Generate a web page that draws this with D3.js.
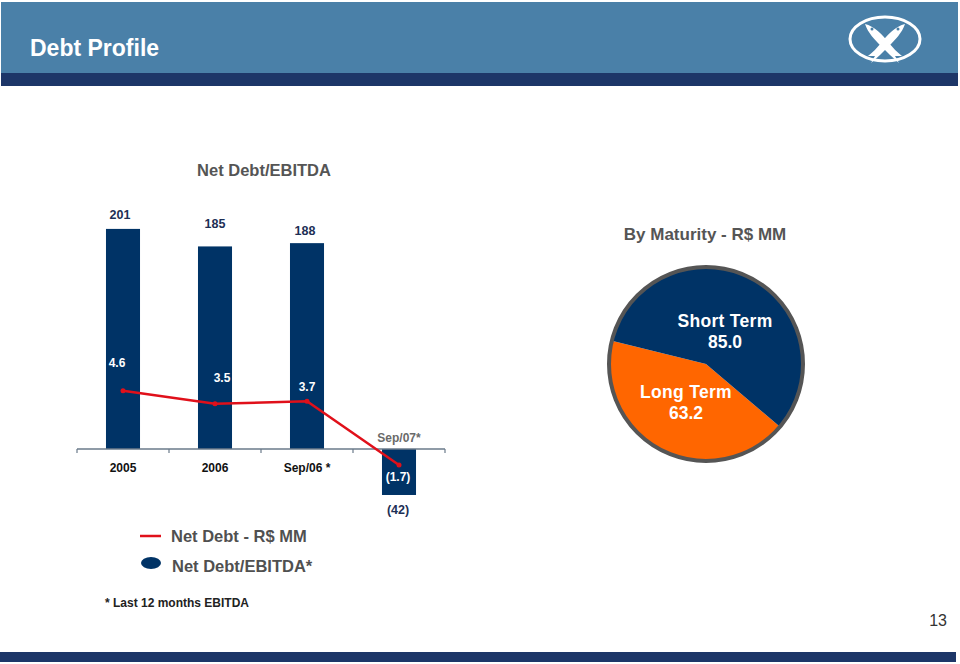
<!DOCTYPE html>
<html>
<head>
<meta charset="utf-8">
<script src="https://cdn.jsdelivr.net/npm/d3@7/dist/d3.min.js"></script>
<style>
  body { margin: 0; background: #fff; }
  svg { display: block; font-family: "Liberation Sans", Arial, sans-serif; }
</style>
</head>
<body>
<svg width="960" height="664"></svg>
<script>
// data
const categories = ["2005", "2006", "Sep/06 *", "Sep/07*"];
const netDebt = [201, 185, 188, -42];
const netDebtLabels = ["201", "185", "188", "(42)"];
const ratio = [4.6, 3.5, 3.7, -1.7];
const ratioLabels = ["4.6", "3.5", "3.7", "(1.7)"];
const maturityNames = ["Long Term", "Short Term"];
const maturityValues = [63.2, 85.0];

// hand placed label nudges (layout only)
const barLabelDy = [-10, -18, -8, 19];
const barLabelDx = [-3, 0, -2, -1];
const ratioLabelDy = [-24, -22, -10, 16];
const ratioLabelDx = [-6, 7, 0, -1];

const navy = "#003366";
const orange = "#ff6600";
const red = "#e0101a";

const svg = d3.select("svg");

// header
svg.append("rect").attr("x", 1).attr("y", 2).attr("width", 957).attr("height", 71).attr("fill", "#4a80a8");
svg.append("rect").attr("x", 1).attr("y", 73).attr("width", 957).attr("height", 13).attr("fill", "#1d3668");
svg.append("text").attr("x", 30).attr("y", 56).attr("fill", "#fff")
  .attr("font-size", 23).attr("font-weight", "bold").text("Debt Profile");

// logo
let logo = svg.append("g").attr("transform", "translate(885,39)");
logo.append("ellipse").attr("rx", 35).attr("ry", 22).attr("fill", "none").attr("stroke", "#fff").attr("stroke-width", 3);
let fish = "M-20,-15 C-11,-13 -2,-4 4,4 C8,9 12,13 17,17 L10,17 L14,24 C8,19 2,13 -4,7 C-10,1 -17,-6 -20,-15 Z";
logo.append("path").attr("d", fish).attr("fill", "#fff");
logo.append("path").attr("d", fish).attr("fill", "#fff").attr("transform", "scale(-1,1)");
logo.append("circle").attr("cx", -13).attr("cy", -10).attr("r", 1.5).attr("fill", "#4a80a8");
logo.append("circle").attr("cx", 13).attr("cy", -10).attr("r", 1.5).attr("fill", "#4a80a8");

// footer
svg.append("rect").attr("x", 0).attr("y", 652).attr("width", 956).attr("height", 10).attr("fill", "#1d3668");
svg.append("text").attr("x", 947).attr("y", 626).attr("text-anchor", "end")
  .attr("font-size", 16).attr("fill", "#333").text("13");

// bar + line chart
svg.append("text").attr("x", 264).attr("y", 176).attr("text-anchor", "middle")
  .attr("font-size", 16.5).attr("font-weight", "bold").attr("fill", "#555").text("Net Debt/EBITDA");

let x = d3.scaleBand().domain(categories).range([77, 445])
  .paddingInner(0.63).paddingOuter(0.315);
let yBar = d3.scaleLinear().domain([0, 200]).range([449, 230]);
let yLine = d3.scaleLinear().domain([0, 4.6]).range([445, 390.7]);

let chart = svg.append("g");

chart.selectAll("rect.bar")
  .data(netDebt)
  .enter()
  .append("rect")
  .attr("class", "bar")
  .attr("x", (d, i) => x(categories[i]))
  .attr("width", x.bandwidth())
  .attr("y", d => yBar(Math.max(0, d)))
  .attr("height", d => Math.abs(yBar(d) - yBar(0)))
  .attr("fill", navy);

// axis with ticks between categories
let axisY = yBar(0);
chart.append("line").attr("x1", 77).attr("x2", 445).attr("y1", axisY).attr("y2", axisY)
  .attr("stroke", "#6a7a8a").attr("stroke-width", 1.5);
let tickXs = [77].concat(categories.map(c => x(c) - x.step() * x.paddingInner() / 2 + x.step()));
chart.selectAll("line.tick")
  .data(tickXs)
  .enter()
  .append("line")
  .attr("x1", d => d).attr("x2", d => d)
  .attr("y1", axisY).attr("y2", axisY + 4)
  .attr("stroke", "#6a7a8a").attr("stroke-width", 1.2);

chart.selectAll("text.cat")
  .data(categories)
  .enter()
  .append("text")
  .attr("x", d => x(d) + x.bandwidth() / 2)
  .attr("y", (d, i) => netDebt[i] < 0 ? axisY - 7 : axisY + 23)
  .attr("text-anchor", "middle")
  .attr("font-size", 12).attr("font-weight", "bold")
  .attr("fill", (d, i) => netDebt[i] < 0 ? "#6a6a6a" : "#111")
  .text(d => d);

chart.selectAll("text.barlab")
  .data(netDebt)
  .enter()
  .append("text")
  .attr("x", (d, i) => x(categories[i]) + x.bandwidth() / 2 + barLabelDx[i])
  .attr("y", (d, i) => yBar(d) + barLabelDy[i])
  .attr("text-anchor", "middle")
  .attr("font-size", 12.5).attr("font-weight", "bold")
  .attr("fill", "#1d2f55")
  .text((d, i) => netDebtLabels[i]);

let line = d3.line()
  .x((d, i) => x(categories[i]) + x.bandwidth() / 2)
  .y(d => yLine(d));

chart.append("path").datum(ratio)
  .attr("d", line)
  .attr("fill", "none").attr("stroke", red).attr("stroke-width", 2.5);

chart.selectAll("circle.pt")
  .data(ratio)
  .enter()
  .append("circle")
  .attr("cx", (d, i) => x(categories[i]) + x.bandwidth() / 2)
  .attr("cy", d => yLine(d))
  .attr("r", 2.5)
  .attr("fill", red);

chart.selectAll("text.ratiolab")
  .data(ratio)
  .enter()
  .append("text")
  .attr("x", (d, i) => x(categories[i]) + x.bandwidth() / 2 + ratioLabelDx[i])
  .attr("y", (d, i) => yLine(d) + ratioLabelDy[i])
  .attr("text-anchor", "middle")
  .attr("font-size", 12).attr("font-weight", "bold")
  .attr("fill", "#fff")
  .text((d, i) => ratioLabels[i]);

// legend
let legend = svg.append("g");
legend.append("line").attr("x1", 140).attr("x2", 161).attr("y1", 536).attr("y2", 536)
  .attr("stroke", red).attr("stroke-width", 2.5);
legend.append("text").attr("x", 171).attr("y", 542).attr("font-size", 16.5).attr("font-weight", "bold")
  .attr("fill", "#505050").text("Net Debt - R$ MM");
legend.append("ellipse").attr("cx", 151).attr("cy", 563).attr("rx", 10).attr("ry", 6).attr("fill", navy);
legend.append("text").attr("x", 172).attr("y", 572).attr("font-size", 16.5).attr("font-weight", "bold")
  .attr("fill", "#505050").text("Net Debt/EBITDA*");
svg.append("text").attr("x", 105).attr("y", 607).attr("font-size", 12).attr("font-weight", "bold")
  .attr("fill", "#222").text("* Last 12 months EBITDA");

// pie
svg.append("text").attr("x", 705).attr("y", 240).attr("text-anchor", "middle")
  .attr("font-size", 17).attr("font-weight", "bold").attr("fill", "#555")
  .text("By Maturity - R$ MM");

let startA = 130.3 * Math.PI / 180;
let pie = d3.pie().sort(null).startAngle(startA).endAngle(startA + 2 * Math.PI);
let arcs = pie(maturityValues);
let radius = 97;
let arc = d3.arc().innerRadius(0).outerRadius(radius);

let pg = svg.append("g").attr("transform", "translate(706,364)");
pg.selectAll("path.slice")
  .data(arcs)
  .enter()
  .append("path")
  .attr("d", arc)
  .attr("fill", (d, i) => i == 0 ? orange : navy);
pg.append("circle").attr("r", radius).attr("fill", "none")
  .attr("stroke", "#555").attr("stroke-width", 4);

let pieLabelPos = [[-20, 29], [19, -42]];
pg.selectAll("text.pname")
  .data(arcs)
  .enter()
  .append("text")
  .attr("x", (d, i) => pieLabelPos[i][0])
  .attr("y", (d, i) => pieLabelPos[i][1] + 5)
  .attr("text-anchor", "middle")
  .attr("font-size", 17.5).attr("font-weight", "bold").attr("fill", "#fff")
  .attr("letter-spacing", 0.3)
  .text((d, i) => maturityNames[i]);
pg.selectAll("text.pval")
  .data(arcs)
  .enter()
  .append("text")
  .attr("x", (d, i) => pieLabelPos[i][0])
  .attr("y", (d, i) => pieLabelPos[i][1] + 26)
  .attr("text-anchor", "middle")
  .attr("font-size", 17.5).attr("font-weight", "bold").attr("fill", "#fff")
  .text(d => d.data.toFixed(1));
</script>
</body>
</html>
